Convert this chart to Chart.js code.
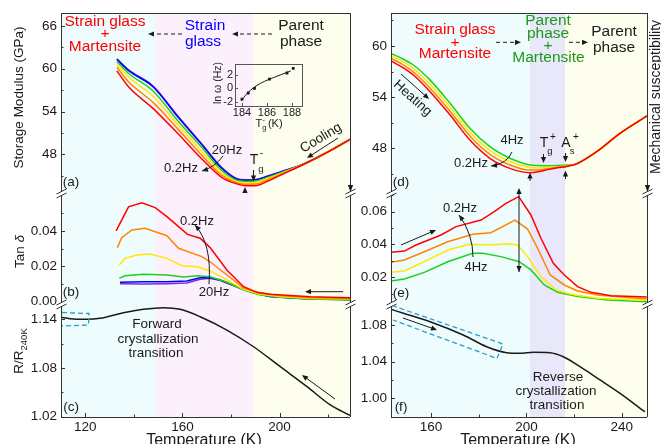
<!DOCTYPE html>
<html>
<head>
<meta charset="utf-8">
<script src="https://cdn.jsdelivr.net/npm/chart.js@4.4.1/dist/chart.umd.min.js"></script>
<style>
  html, body { margin: 0; padding: 0; background: #fff; }
  #wrap { position: relative; width: 661px; height: 444px; overflow: hidden; }
  #wrap canvas { position: absolute; left: 0; top: 0; }
</style>
</head>
<body>
<div id="wrap">
  <canvas id="pa" width="661" height="444"></canvas>
  <canvas id="pb" width="661" height="444"></canvas>
  <canvas id="pc" width="661" height="444"></canvas>
  <canvas id="pd" width="661" height="444"></canvas>
  <canvas id="pe" width="661" height="444"></canvas>
  <canvas id="pf" width="661" height="444"></canvas>
  <canvas id="inset" width="661" height="444"></canvas>
</div>
<script>
// ==================================================
// Data (temperature in K)
// ==================================================

// (a) storage modulus on cooling, GPa
const tempA = [133, 138, 148, 158, 168, 176, 182, 186, 190, 195, 200, 210, 220, 229];
const modA_0_2 = [59.7, 57.4, 54.4, 50.95, 47.35, 44.8, 43.88, 43.6, 43.6, 44.2, 45.0, 46.6, 48.35, 50.1];
const modA_0_5 = [60.2, 58.1, 55.25, 51.6, 47.85, 45.1, 44.05, 43.8, 43.82, 44.4, 45.12, 46.61, 48.35, 50.1];
const modA_1 = [60.6, 58.8, 56.1, 52.2, 48.4, 45.45, 44.2, 44.0, 44.05, 44.6, 45.25, 46.62, 48.36, 50.1];
const modA_4 = [61.0, 59.3, 56.85, 52.75, 48.95, 45.8, 44.4, 44.2, 44.25, 44.75, 45.35, 46.63, 48.36, 50.1];
const modA_10 = [61.3, 59.7, 57.45, 53.3, 49.35, 46.1, 44.57, 44.35, 44.4, 44.9, 45.45, 46.65, 48.37, 50.1];
const modA_20 = [61.4, 59.8, 57.55, 53.4, 49.45, 46.2, 44.65, 44.42, 44.45, 44.95, 45.5, 46.66, 48.38, 50.1];

// (b) tan delta on cooling
const tB_0_2 = [132.7, 137.8, 143.3, 148.8, 153.6, 162.1, 167.3, 171.4, 178.3, 185.2, 190.7, 196.2, 212.7, 229];
const tanB_0_2 = [0.0401, 0.0537, 0.0560, 0.0532, 0.0481, 0.0381, 0.0359, 0.0306, 0.0179, 0.0085, 0.0053, 0.0042, 0.0028, 0.0023];
const tB_0_5 = [133.2, 135.0, 139.2, 144.6, 153.6, 158.4, 168.0, 171.4, 178.3, 185.2, 192.1, 200, 212, 229];
const tanB_0_5 = [0.0306, 0.0362, 0.0406, 0.0415, 0.0373, 0.0302, 0.0255, 0.0226, 0.0151, 0.0079, 0.0048, 0.0035, 0.0024, 0.0018];
const tB_1 = [134.0, 136.4, 141.2, 146.7, 153.6, 159.8, 166.0, 171.4, 178.3, 185.2, 192.1, 200, 212, 229];
const tanB_1 = [0.0208, 0.0245, 0.0264, 0.0270, 0.0245, 0.0204, 0.0198, 0.0174, 0.0123, 0.0070, 0.0042, 0.0030, 0.0020, 0.0015];
const tB_4 = [134.0, 136.4, 143.9, 153.6, 160.4, 166.0, 171.4, 178.3, 185.2, 192.1, 200, 212, 229];
const tanB_4 = [0.0132, 0.0147, 0.0155, 0.0151, 0.0140, 0.0147, 0.0141, 0.0110, 0.0066, 0.0038, 0.0025, 0.0015, 0.0010];
const tB_10 = [134.3, 143.9, 153.6, 161.8, 167.3, 171.4, 175.6, 182.5, 189.3, 196, 210, 229];
const tanB_10 = [0.0110, 0.0113, 0.0113, 0.0117, 0.0136, 0.0136, 0.0123, 0.0085, 0.0051, 0.0030, 0.0018, 0.0012];
const tanB_20 = [0.0102, 0.0100, 0.0102, 0.0106, 0.0127, 0.0132, 0.0120, 0.0083, 0.0050, 0.0029, 0.0017, 0.0011];

// (c) resistance ratio, cooling
const tempC = [110, 113.7, 120.6, 126.1, 135.7, 143.9, 152.2, 159.1, 167.3, 178.3, 189.3, 200.3, 211.3, 220.9, 229];
const resC = [1.1425, 1.1407, 1.1400, 1.1412, 1.1481, 1.1523, 1.1543, 1.1523, 1.1432, 1.1268, 1.1062, 1.0816, 1.0570, 1.0344, 1.0215];

// (d) storage modulus on heating, GPa
const tempD = [143.2, 148, 152.6, 159.6, 168, 176.3, 184.7, 193.1, 201.5, 205, 209, 213, 217, 221, 229.5, 239.3, 250.6];
const modD_0_2 = [58.24, 57.5, 56.6, 54.64, 51.9, 48.97, 46.83, 45.65, 45.14, 45.25, 45.5, 45.72, 45.88, 46.16, 47.6, 49.76, 51.8];
const modD_0_5 = [58.55, 57.85, 56.95, 55.05, 52.35, 49.45, 47.3, 46.05, 45.45, 45.45, 45.6, 45.78, 45.92, 46.18, 47.6, 49.76, 51.8];
const modD_1 = [58.85, 58.2, 57.35, 55.5, 52.8, 49.9, 47.75, 46.45, 45.75, 45.7, 45.75, 45.85, 45.95, 46.18, 47.6, 49.76, 51.8];
const modD_4 = [59.14, 58.5, 57.77, 56.0, 53.28, 50.35, 48.19, 46.83, 46.04, 45.98, 45.96, 45.98, 46.04, 46.18, 47.62, 49.78, 51.82];

// (e) tan delta on heating
const tE_0_2 = [143.2, 148.8, 153.7, 164.2, 170.5, 181.0, 186.5, 191.4, 196.8, 201.9, 206.1, 211.3, 215.9, 221.5, 227.1, 235.5, 250.5];
const tanE_0_2 = [0.0352, 0.0360, 0.0397, 0.0458, 0.0509, 0.0549, 0.0600, 0.0651, 0.0692, 0.0580, 0.0438, 0.0285, 0.0214, 0.0143, 0.0108, 0.0088, 0.0080];
const tE_0_5 = [143.2, 148.8, 157.2, 167.0, 177.5, 185.1, 195.2, 200.5, 204.7, 210.0, 215.9, 221.5, 229.9, 250.5];
const tanE_0_5 = [0.0291, 0.0305, 0.0356, 0.0417, 0.0462, 0.0472, 0.0549, 0.0494, 0.0377, 0.0214, 0.0153, 0.0116, 0.0092, 0.0068];
const tE_1 = [143.2, 148.8, 157.2, 167.0, 176.1, 185.1, 192.1, 196.3, 200.5, 206.1, 212.4, 218.7, 229.9, 250.5];
const tanE_1 = [0.0230, 0.0238, 0.0295, 0.0366, 0.0401, 0.0397, 0.0405, 0.0397, 0.0326, 0.0204, 0.0123, 0.0096, 0.0072, 0.0060];
const tE_4 = [143.2, 148.8, 157.2, 167.0, 177.5, 181.7, 189.3, 197.0, 201.9, 207.5, 213.1, 221.5, 234.1, 250.5];
const tanE_4 = [0.0177, 0.0190, 0.0230, 0.0295, 0.0346, 0.0346, 0.0326, 0.0295, 0.0245, 0.0153, 0.0109, 0.0082, 0.0062, 0.0051];

// (f) resistance ratio, heating
const tempF = [143.2, 148.4, 159.6, 173.5, 183.3, 191.7, 197.3, 202.9, 209.9, 215.5, 222.5, 230.9, 239.3, 249.7];
const resF = [1.0971, 1.0928, 1.0836, 1.0691, 1.0563, 1.0498, 1.0491, 1.0502, 1.0498, 1.0454, 1.0345, 1.0200, 1.0054, 0.9853];

// inset: ln(omega) vs Tg-
const insetTg = [184.0, 184.5, 185.0, 186.2, 187.6, 188.1];
const insetLnW = [-1.61, -0.69, 0.0, 1.39, 2.30, 3.00];
const fitTg = [183.95, 184.3, 184.7, 185.2, 185.8, 186.5, 187.2, 187.9];
const fitLnW = [-1.85, -1.0, -0.25, 0.45, 1.05, 1.6, 2.1, 2.6];

// ticks
const xTicksL = [120, 160, 200], xMinorL = [140, 180, 220];
const xTicksR = [160, 200, 240], xMinorR = [180, 220];
const yTicksA = [48, 54, 60, 66], yMinorA = [45, 51, 57, 63];
const yTicksB = [0, 0.02, 0.04], yMinorB = [0.01, 0.03, 0.05];
const yTicksC = [1.02, 1.08, 1.14], yMinorC = [1.05, 1.11];
const yTicksD = [48, 54, 60], yMinorD = [45, 51, 57, 63];
const yTicksE = [0.02, 0.04, 0.06], yMinorE = [0.01, 0.03, 0.05, 0.07];
const yTicksF = [1.00, 1.04, 1.08], yMinorF = [1.02, 1.06];
const insetXTicks = [184, 186, 188], insetYTicks = [-2, 0, 2];

// ==================================================
// Styles and helpers
// ==================================================
const PAGE_W = 661, PAGE_H = 444, AXIS_W = 50, AXIS_H = 27;
const FAMILY = '"Liberation Sans", Arial, Helvetica, sans-serif';
const INK = '#1a1a1a', FRAME = '#333';
const RED = '#ff0000', ORANGE = '#ff8400', YELLOW = '#ffe800', GREEN = '#19d219', BLUE = '#0000ff', VIOLET = '#7b2fd6';
const CYAN_BG = '#effcfe', PINK_BG = '#fcf0fc', YEL_BG = '#fefeee', LAV_BG = '#e9e8fb';
const DASH_BLUE = '#2b9ccc';

const shadesL = [[110, 148.8, CYAN_BG], [148.8, 189.2, PINK_BG], [189.2, 229, YEL_BG]];
const shadesR = [[143.2, 201.5, CYAN_BG], [201.5, 216.2, LAV_BG], [216.2, 250.6, YEL_BG]];

const pts = (xs, ys) => xs.map((x, i) => ({ x, y: ys[i] }));
const line = (xs, ys, color, smooth) => ({
  data: pts(xs, ys), borderColor: color, borderWidth: 1.5, pointRadius: 0, fill: false,
  tension: smooth ? 0.4 : 0, cubicInterpolationMode: smooth ? 'monotone' : 'default'
});
const snap = v => Math.round(v) + 0.5;

function txt(ctx, s, x, y, size, color, o) {
  o = o || {};
  ctx.save();
  ctx.font = (o.italic ? 'italic ' : '') + size + 'px ' + FAMILY;
  ctx.fillStyle = color || INK;
  ctx.textAlign = o.align || 'center';
  ctx.textBaseline = o.base || 'middle';
  ctx.translate(x, y);
  if (o.rot) ctx.rotate(o.rot * Math.PI / 180);
  ctx.fillText(s, 0, 0);
  ctx.restore();
}

// mixed text with sub/superscripts, centred on x, baseline y
function rich(ctx, parts, x, y, rot) {
  ctx.save();
  ctx.translate(x, y);
  if (rot) ctx.rotate(rot * Math.PI / 180);
  ctx.fillStyle = INK;
  ctx.textBaseline = 'alphabetic';
  ctx.textAlign = 'left';
  const f = p => (p.italic ? 'italic ' : '') + p.size + 'px ' + FAMILY;
  let w = 0;
  parts.forEach(p => { ctx.font = f(p); p.w = p.adv !== undefined ? p.adv : ctx.measureText(p.t).width; w += p.w; });
  let cx = -w / 2;
  parts.forEach(p => { ctx.font = f(p); ctx.fillText(p.t, cx, p.dy || 0); cx += p.w; });
  ctx.restore();
}

function head(ctx, x, y, ang, len, w) {
  len = len || 6; w = w || 2.6;
  const c = Math.cos(ang), s = Math.sin(ang);
  ctx.beginPath();
  ctx.moveTo(x, y);
  ctx.lineTo(x - len * c + w * s, y - len * s - w * c);
  ctx.lineTo(x - len * c - w * s, y - len * s + w * c);
  ctx.closePath();
  ctx.fill();
}

function arrow(ctx, x1, y1, x2, y2, o) {
  o = o || {};
  ctx.save();
  ctx.strokeStyle = ctx.fillStyle = o.color || INK;
  ctx.lineWidth = o.lw || 1;
  if (o.dash) ctx.setLineDash(o.dash);
  const a = Math.atan2(y2 - y1, x2 - x1);
  ctx.beginPath();
  ctx.moveTo(x1, y1);
  ctx.lineTo(x2 - 4 * Math.cos(a), y2 - 4 * Math.sin(a));
  ctx.stroke();
  ctx.setLineDash([]);
  head(ctx, x2, y2, a);
  if (o.both) head(ctx, x1, y1, a + Math.PI);
  ctx.restore();
}

function curveArrow(ctx, x1, y1, cx, cy, x2, y2) {
  ctx.save();
  ctx.strokeStyle = ctx.fillStyle = INK;
  ctx.lineWidth = 1;
  ctx.beginPath();
  ctx.moveTo(x1, y1);
  ctx.quadraticCurveTo(cx, cy, x2, y2);
  ctx.stroke();
  head(ctx, x2, y2, Math.atan2(y2 - cy, x2 - cx));
  ctx.restore();
}

function dashed(ctx, path) {
  ctx.save();
  ctx.strokeStyle = DASH_BLUE;
  ctx.lineWidth = 1.3;
  ctx.setLineDash([5, 3]);
  ctx.beginPath();
  path.forEach((p, i) => i ? ctx.lineTo(p[0], p[1]) : ctx.moveTo(p[0], p[1]));
  ctx.stroke();
  ctx.restore();
}

// axis break "//"
function brk(ctx, x, y) {
  ctx.save();
  ctx.fillStyle = '#fff';
  ctx.strokeStyle = FRAME;
  ctx.lineWidth = 1;
  ctx.beginPath();
  ctx.moveTo(x - 5, y + 1); ctx.lineTo(x + 5, y - 4);
  ctx.lineTo(x + 5, y); ctx.lineTo(x - 5, y + 5);
  ctx.closePath();
  ctx.fill();
  ctx.beginPath();
  ctx.moveTo(x - 5, y + 1); ctx.lineTo(x + 5, y - 4);
  ctx.moveTo(x - 5, y + 5); ctx.lineTo(x + 5, y);
  ctx.stroke();
  ctx.restore();
}

// ==================================================
// One panel = one chart on a full-page canvas
// ==================================================
function panel(id, box, xRange, yRange, datasets, cfg) {
  const showX = !!cfg.xTicks;
  const tickFont = { family: FAMILY, size: 13.5 };
  return new Chart(document.getElementById(id), {
    type: 'line',
    data: { datasets },
    options: {
      responsive: false,
      animation: false,
      events: [],
      layout: { padding: { left: box.l - AXIS_W, top: box.t, right: PAGE_W - box.r, bottom: PAGE_H - box.b - (showX ? AXIS_H : 0) } },
      plugins: { legend: { display: false }, tooltip: { enabled: false } },
      scales: {
        x: {
          type: 'linear', min: xRange[0], max: xRange[1], display: showX,
          grid: { display: false, drawTicks: false }, border: { display: false },
          ticks: { font: tickFont, color: INK, padding: 2, maxRotation: 0 },
          afterBuildTicks: s => { if (showX) s.ticks = cfg.xTicks.map(v => ({ value: v })); },
          afterFit: s => { if (showX) s.height = AXIS_H; }
        },
        y: {
          type: 'linear', min: yRange[0], max: yRange[1],
          grid: { display: false, drawTicks: false }, border: { display: false },
          ticks: { font: tickFont, color: INK, padding: 4, callback: v => v.toFixed(cfg.digits) },
          afterBuildTicks: s => { s.ticks = cfg.yTicks.map(v => ({ value: v })); },
          afterFit: s => { s.width = AXIS_W; }
        }
      }
    },
    plugins: [{
      id: 'deco',
      beforeDraw(c) {
        const a = c.chartArea, ctx = c.ctx, xs = c.scales.x;
        ctx.save();
        cfg.shades.forEach(([x0, x1, col]) => {
          const p0 = Math.max(a.left, xs.getPixelForValue(x0));
          const p1 = Math.min(a.right, xs.getPixelForValue(x1));
          ctx.fillStyle = col;
          ctx.fillRect(p0, a.top, p1 - p0, a.bottom - a.top);
        });
        ctx.restore();
      },
      afterDraw(c) {
        const a = c.chartArea, ctx = c.ctx, xs = c.scales.x, ys = c.scales.y;
        ctx.save();
        ctx.strokeStyle = FRAME;
        ctx.lineWidth = 1;
        ctx.beginPath();
        ctx.moveTo(snap(a.left), a.top); ctx.lineTo(snap(a.left), a.bottom);
        ctx.moveTo(snap(a.right), a.top); ctx.lineTo(snap(a.right), a.bottom);
        if (cfg.topEdge) { ctx.moveTo(a.left, snap(a.top)); ctx.lineTo(a.right, snap(a.top)); }
        if (showX) { ctx.moveTo(a.left, snap(a.bottom)); ctx.lineTo(a.right, snap(a.bottom)); }
        cfg.yTicks.forEach(v => { const y = snap(ys.getPixelForValue(v)); ctx.moveTo(a.left, y); ctx.lineTo(a.left + 4, y); });
        cfg.yMinor.forEach(v => { const y = snap(ys.getPixelForValue(v)); ctx.moveTo(a.left, y); ctx.lineTo(a.left + 2.5, y); });
        if (showX) {
          cfg.xTicks.forEach(v => { const x = snap(xs.getPixelForValue(v)); ctx.moveTo(x, a.bottom); ctx.lineTo(x, a.bottom - 4); });
          cfg.xMinor.forEach(v => { const x = snap(xs.getPixelForValue(v)); ctx.moveTo(x, a.bottom); ctx.lineTo(x, a.bottom - 2.5); });
        }
        ctx.stroke();
        ctx.restore();
        if (cfg.breakTop) { brk(ctx, a.left + 0.5, a.top); brk(ctx, a.right + 0.5, a.top); }
        if (cfg.decor) cfg.decor(ctx, c);
      }
    }]
  });
}

// ==================================================
// Left column: cooling
// ==================================================
panel('pa', { l: 61, t: 13, r: 350, b: 193 }, [110, 229], [42.57, 67.82], [
  line(tempA, modA_0_2, RED, true),
  line(tempA, modA_0_5, ORANGE, true),
  line(tempA, modA_1, YELLOW, true),
  line(tempA, modA_4, GREEN, true),
  line(tempA, modA_10, BLUE, true),
  line(tempA, modA_20, VIOLET, true)
], {
  yTicks: yTicksA, yMinor: yMinorA, digits: 0, shades: shadesL, topEdge: true,
  decor(ctx) {
    rich(ctx, [{ t: 'Storage Modulus (GPa)', size: 13.5 }], 23, 97.5, -90);
    txt(ctx, 'Strain glass', 105, 22, 15.5, RED);
    txt(ctx, '+', 105, 34, 15.5, RED);
    txt(ctx, 'Martensite', 105, 47, 15.5, RED);
    txt(ctx, 'Strain', 205, 26, 15.5, BLUE);
    txt(ctx, 'glass', 203, 42, 15.5, BLUE);
    txt(ctx, 'Parent', 301, 26, 15.5);
    txt(ctx, 'phase', 301, 42, 15.5);
    arrow(ctx, 182, 34, 148, 34, { dash: [4, 3] });
    arrow(ctx, 272, 34, 232, 34, { dash: [4, 3] });
    txt(ctx, '20Hz', 227, 150, 13);
    txt(ctx, '0.2Hz', 181, 168, 13);
    curveArrow(ctx, 223, 156, 215, 167, 202, 171);
    txt(ctx, 'T', 254, 160, 14);
    txt(ctx, '-', 261.5, 153.5, 10);
    txt(ctx, 'g', 261, 169, 9.5);
    arrow(ctx, 253.5, 170, 253.5, 181.5);
    arrow(ctx, 245, 199, 245, 187);
    txt(ctx, 'Cooling', 321, 138, 13.5, INK, { rot: -31 });
    arrow(ctx, 338, 138, 307, 158);
    ctx.fillStyle = INK;
    head(ctx, 350.5, 192, Math.PI / 2, 7, 2.6);
    txt(ctx, '(a)', 71, 182, 13.5);
  }
});

panel('pb', { l: 61, t: 193, r: 350, b: 304 }, [110, 229], [-0.0013, 0.0615], [
  line(tB_0_2, tanB_0_2, RED, false),
  line(tB_0_5, tanB_0_5, ORANGE, false),
  line(tB_1, tanB_1, YELLOW, false),
  line(tB_4, tanB_4, GREEN, false),
  line(tB_10, tanB_10, BLUE, false),
  line(tB_10, tanB_20, VIOLET, false)
], {
  yTicks: yTicksB, yMinor: yMinorB, digits: 2, shades: shadesL, breakTop: true,
  decor(ctx) {
    rich(ctx, [{ t: 'Tan ', size: 13.5 }, { t: 'δ', size: 13.5, italic: true }], 23.5, 251.5, -90);
    txt(ctx, '0.2Hz', 197, 221, 13);
    txt(ctx, '20Hz', 214, 292, 13);
    curveArrow(ctx, 209, 284, 212, 244, 195, 225);
    arrow(ctx, 343, 291.7, 305, 291.7);
    txt(ctx, '(b)', 71, 292, 13.5);
  }
});

panel('pc', { l: 61, t: 304, r: 350, b: 417 }, [110, 229], [1.0196, 1.1589], [
  line(tempC, resC, INK, true)
], {
  xTicks: xTicksL, xMinor: xMinorL, yTicks: yTicksC, yMinor: yMinorC, digits: 2, shades: shadesL, breakTop: true,
  decor(ctx) {
    rich(ctx, [{ t: 'R/R', size: 13.5 }, { t: '240K', size: 9.5, dy: 3.5 }], 23, 351, -90);
    txt(ctx, 'Forward', 157, 324, 13.5);
    txt(ctx, 'crystallization', 158, 339, 13.5);
    txt(ctx, 'transition', 156, 353, 13.5);
    dashed(ctx, [[62, 312.5], [89, 313.5], [88.5, 325], [62, 326]]);
    arrow(ctx, 335, 399, 302, 375);
    txt(ctx, '(c)', 71, 407, 13.5);
    txt(ctx, 'Temperature (K)', 204, 444.5, 16, INK, { base: 'alphabetic' });
  }
});

// ==================================================
// Right column: heating
// ==================================================
panel('pd', { l: 391, t: 13, r: 647, b: 193 }, [143.2, 250.6], [42.76, 63.87], [
  line(tempD, modD_0_2, RED, true),
  line(tempD, modD_0_5, ORANGE, true),
  line(tempD, modD_1, YELLOW, true),
  line(tempD, modD_4, GREEN, true)
], {
  yTicks: yTicksD, yMinor: yMinorD, digits: 0, shades: shadesR, topEdge: true,
  decor(ctx) {
    const G = '#1a9a1a';
    txt(ctx, 'Strain glass', 455, 30, 15.5, RED);
    txt(ctx, '+', 455, 42.5, 15.5, RED);
    txt(ctx, 'Martensite', 455, 54, 15.5, RED);
    txt(ctx, 'Parent', 548, 21, 15.5, G);
    txt(ctx, 'phase', 548, 34, 15.5, G);
    txt(ctx, '+', 548, 46, 15.5, G);
    txt(ctx, 'Martensite', 548.5, 58, 15.5, G);
    txt(ctx, 'Parent', 614, 32, 15.5);
    txt(ctx, 'phase', 614, 47.5, 15.5);
    arrow(ctx, 496, 42.3, 521, 42.3, { dash: [4, 3] });
    arrow(ctx, 569, 42.3, 588, 42.3, { dash: [4, 3] });
    txt(ctx, 'Heating', 412.5, 98.3, 13.5, INK, { rot: 42 });
    arrow(ctx, 401, 74, 429, 99);
    txt(ctx, '4Hz', 512, 140, 13);
    txt(ctx, '0.2Hz', 471, 163, 13);
    curveArrow(ctx, 512, 152, 507, 164, 491, 166);
    txt(ctx, 'T', 544, 143, 14);
    txt(ctx, '+', 553, 137.5, 10);
    txt(ctx, 'g', 550, 151, 9.5);
    arrow(ctx, 543.5, 154, 543.5, 163);
    txt(ctx, 'A', 566, 143, 14);
    txt(ctx, '+', 576, 137.5, 10);
    txt(ctx, 's', 572, 151, 9.5);
    arrow(ctx, 565.5, 153, 565.5, 162);
    arrow(ctx, 530, 181, 530, 172.5);
    arrow(ctx, 565.5, 179, 565.5, 170.5);
    ctx.fillStyle = INK;
    head(ctx, 647.5, 192, Math.PI / 2, 7, 2.6);
    txt(ctx, '(d)', 401, 182, 13.5);
    rich(ctx, [{ t: 'Mechanical susceptibility', size: 14 }], 660, 97, -90);
  }
});

panel('pe', { l: 391, t: 193, r: 647, b: 304 }, [143.2, 250.6], [0.0037, 0.0714], [
  line(tE_0_2, tanE_0_2, RED, false),
  line(tE_0_5, tanE_0_5, ORANGE, false),
  line(tE_1, tanE_1, YELLOW, false),
  line(tE_4, tanE_4, GREEN, false)
], {
  yTicks: yTicksE, yMinor: yMinorE, digits: 2, shades: shadesR, breakTop: true,
  decor(ctx) {
    txt(ctx, '0.2Hz', 460, 208, 13);
    txt(ctx, '4Hz', 476, 267, 13);
    curveArrow(ctx, 473, 257, 473, 234, 459, 215);
    arrow(ctx, 401, 245, 436, 230);
    arrow(ctx, 519, 272, 519, 188, { both: true });
    txt(ctx, '(e)', 401, 293, 13.5);
  }
});

panel('pf', { l: 391, t: 304, r: 647, b: 417 }, [143.2, 250.6], [0.9796, 1.1029], [
  line(tempF, resF, INK, true)
], {
  xTicks: xTicksR, xMinor: xMinorR, yTicks: yTicksF, yMinor: yMinorF, digits: 2, shades: shadesR, breakTop: true,
  decor(ctx) {
    dashed(ctx, [[392, 305.5], [503, 344], [497, 358.5], [393, 320]]);
    arrow(ctx, 403, 318, 437, 330);
    txt(ctx, 'Reverse', 558, 377, 13.5);
    txt(ctx, 'crystallization', 556, 391, 13.5);
    txt(ctx, 'transition', 557, 405, 13.5);
    txt(ctx, '(f)', 401, 407, 13.5);
    txt(ctx, 'Temperature (K)', 518, 444.5, 16, INK, { base: 'alphabetic' });
  }
});

// ==================================================
// Inset in (a): ln(omega) vs Tg-
// ==================================================
const IB = { l: 235, t: 64.3, r: 301.7, b: 106 }, IYW = 20, IXH = 14;
new Chart(document.getElementById('inset'), {
  type: 'line',
  data: {
    datasets: [
      { data: pts(insetTg, insetLnW), showLine: false, pointStyle: 'rect', pointRadius: 2, pointBackgroundColor: INK, pointBorderWidth: 0 },
      { data: pts(fitTg, fitLnW), borderColor: INK, borderWidth: 1, pointRadius: 0, tension: 0.4, cubicInterpolationMode: 'monotone' }
    ]
  },
  options: {
    responsive: false, animation: false, events: [],
    layout: { padding: { left: IB.l - IYW, top: IB.t, right: PAGE_W - IB.r, bottom: PAGE_H - IB.b - IXH } },
    plugins: { legend: { display: false }, tooltip: { enabled: false } },
    scales: {
      x: {
        type: 'linear', min: 183.44, max: 188.78,
        grid: { display: false, drawTicks: false }, border: { display: false },
        ticks: { font: { family: FAMILY, size: 11 }, color: INK, padding: 0, maxRotation: 0 },
        afterBuildTicks: s => { s.ticks = insetXTicks.map(v => ({ value: v })); },
        afterFit: s => { s.height = IXH; }
      },
      y: {
        type: 'linear', min: -2.64, max: 3.6,
        grid: { display: false, drawTicks: false }, border: { display: false },
        ticks: { font: { family: FAMILY, size: 11 }, color: INK, padding: 2 },
        afterBuildTicks: s => { s.ticks = insetYTicks.map(v => ({ value: v })); },
        afterFit: s => { s.width = IYW; }
      }
    }
  },
  plugins: [{
    id: 'insetFrame',
    afterDraw(c) {
      const a = c.chartArea, ctx = c.ctx;
      ctx.save();
      ctx.strokeStyle = '#555';
      ctx.lineWidth = 1;
      ctx.strokeRect(snap(a.left), snap(a.top), Math.round(a.right - a.left), Math.round(a.bottom - a.top));
      ctx.beginPath();
      insetXTicks.forEach(v => { const x = snap(c.scales.x.getPixelForValue(v)); ctx.moveTo(x, a.bottom); ctx.lineTo(x, a.bottom - 3); });
      insetYTicks.forEach(v => { const y = snap(c.scales.y.getPixelForValue(v)); ctx.moveTo(a.left, y); ctx.lineTo(a.left + 3, y); });
      ctx.stroke();
      ctx.restore();
      rich(ctx, [{ t: 'ln ω (Hz)', size: 10.5 }], 221, 83, -90);
      rich(ctx, [{ t: 'T', size: 11 }, { t: 'g', size: 7.5, dy: 3, adv: 0 }, { t: '-', size: 8, dy: -5 }, { t: ' (K)', size: 11 }], 269, 127);
    }
  }]
});
</script>
</body>
</html>
